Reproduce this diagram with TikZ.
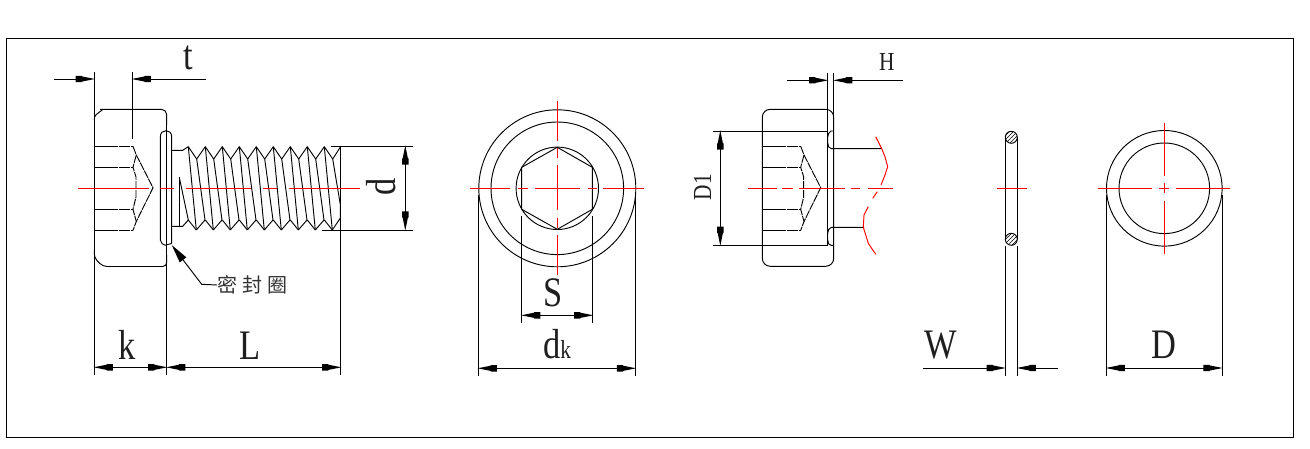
\documentclass[tikz,border=0pt]{standalone}
\usepackage{fontspec}
\usetikzlibrary{arrows.meta,patterns}
\newfontfamily\dimfont[FakeStretch=0.82]{Liberation Serif}
\newfontfamily\cjkfont[LetterSpace=25]{Noto Sans CJK SC}
\definecolor{cl}{RGB}{255,0,0}
\pgfdeclarearrow{
  name=DimTip,
  setup code={\pgfarrowssetlineend{-6pt}\pgfarrowssetvisualbackend{-14pt}\pgfarrowssetbackend{-14pt}},
  drawing code={
    \pgfpathmoveto{\pgfqpoint{0.5pt}{0pt}}
    \pgfpathlineto{\pgfqpoint{-9pt}{1.9pt}}
    \pgfpathlineto{\pgfqpoint{-9.5pt}{2.4pt}}
    \pgfpathlineto{\pgfqpoint{-14pt}{2.4pt}}
    \pgfpathlineto{\pgfqpoint{-14pt}{-2.4pt}}
    \pgfpathlineto{\pgfqpoint{-9.5pt}{-2.4pt}}
    \pgfpathlineto{\pgfqpoint{-9pt}{-1.9pt}}
    \pgfpathclose\pgfusepathqfill
  }
}
\tikzset{
  line/.style={draw=black,line width=0.72pt},
  dim/.style={line,-{DimTip}},
  dimboth/.style={line,{DimTip}-{DimTip}},
  red axis/.style={draw=cl,line width=0.75pt},
  thin line/.style={draw=black,line width=0.7pt},
  socket dash/.style={thin line,dash pattern=on 18pt off 0.8pt on 8pt off 0.8pt},
  cone dash/.style={thin line,dash pattern=on 6pt off 0.7pt},
  big label/.style={anchor=base,inner sep=0pt,text=black!88,font=\dimfont\fontsize{31.5}{32}\selectfont},
  small label/.style={anchor=base,inner sep=0pt,text=black!88,font=\dimfont\fontsize{19.5}{20}\selectfont},
  wave/.style={draw=cl,line width=0.72pt},
  ringcut/.style={thin line,pattern=north east lines,pattern color=black},
}
\newcommand{\socketview}[1]{%
  \begin{scope}[xshift=#1*0.75pt]
    \path[socket dash] (94.3,146.3) -- (133,146.3);
    \path[socket dash] (94.3,167.3) -- (133,167.3);
    \path[socket dash] (94.3,209.3) -- (133,209.3);
    \path[socket dash] (94.3,230.3) -- (133,230.3);
    \path[cone dash] (133,146.3) -- (136.3,155) -- (153,187.7) -- (136.3,221.5) -- (133,230.3);
    \path[cone dash] (136.3,155) -- (133,167.3) -- (136,177) -- (136,197) -- (133,209.3) -- (136.3,221.5);
  \end{scope}}
\begin{document}
\begin{tikzpicture}[x=0.75pt,y=-0.75pt]
\useasboundingbox (0,0) rectangle (1310,449);
\fill[white] (0,0) rectangle (1310,449);
\draw[line] (6,38) rectangle (1293,437);

% ---------- left view: screw with seal
\path[line,rounded corners=2pt] (94.3,120) -- (94.3,116) -- (103,109.3);
\path[line] (94.3,72) -- (94.3,375);
\path[line,rounded corners=4pt] (100,109.3) -- (166.7,109.3) -- (166.7,125);
\path[line] (166.7,120) -- (166.7,375);
\path[line,rounded corners=3pt] (94.3,255) -- (94.3,258) -- (103,266.5) -- (166.7,266.5) -- (166.7,255);
\path[line] (132.3,72) -- (132.3,139);
\socketview{0}
% seal ring
\path[line] (160.3,240) -- (160.3,137) .. controls (160.3,132.5) and (163,130.7) .. (166,130.7)
  .. controls (169,130.7) and (171.7,132.5) .. (171.7,137) -- (171.7,243.5);
\path[line] (160.3,240) .. controls (161,243) and (163,245.2) .. (165,245.2) -- (171.7,243.5);
% shank and thread
\path[line] (171.7,150.3) -- (182.7,150.3) -- (188.3,146.7);
\path[line] (171.7,226.3) -- (182.7,226.3) -- (188.3,220);
\path[thin line] (179.3,177.3) -- (179.3,226.3);
\path[thin line] (179.3,177.3) -- (188.3,220);
\foreach \i in {0,...,8}{
  \pgfmathsetmacro{\ct}{188.3+17*\i}
  \pgfmathsetmacro{\rt}{196.7+17*\i}
  \pgfmathsetmacro{\cb}{196.3+17*\i}
  \pgfmathsetmacro{\rb}{205+17*\i}
  \pgfmathsetmacro{\rbp}{188.3+17*\i}
  \path[thin line] (\ct,146.7) -- (\rt,159);
  \path[thin line] (\rbp,220) -- (\cb,230);
  \path[thin line] (\ct,146.7) -- (\cb,230);
  \ifnum\i<8
    \path[thin line] (\rt,159) -- (\ct+17,146.7);
    \path[thin line] (\cb,230) -- (\rb,220);
    \path[thin line] (\rt,159) -- (\rb,220);
  \fi
}
\path[thin line] (332.7,159) -- (340.4,147);
\path[thin line] (332.7,159) -- (340.4,205) -- (340.4,218) -- (332.3,230);
\path[thin line] (340.4,147) -- (340.4,205);
\path[line] (340.7,218) -- (340.7,375);
\path[line] (331,146) -- (413,146);
\path[line] (322,230) -- (413,230);
% dims
\coordinate (tl0) at (54,79); \coordinate (tl1) at (94.3,79);
\coordinate (tr0) at (206,79); \coordinate (tr1) at (132.3,79);
\draw[dim] (tl0) -- (tl1); \draw[dim] (tr0) -- (tr1);
\coordinate (k0) at (94.3,367.3); \coordinate (k1) at (166.7,367.3); \coordinate (L1) at (340.7,367.3);
\draw[dimboth] (k0) -- (k1); \draw[dimboth] (k1) -- (L1);
\coordinate (d0) at (405.3,146); \coordinate (d1) at (405.3,230);
\draw[dimboth] (d0) -- (d1);
\node[big label] (lt) at (188,70) {t};
\node[big label] (lk) at (126.7,359) {k};
\node[big label] (lL) at (250,359) {L};
\node[big label,rotate=90] (ld) at (395.7,187) {d};
\coordinate (lead1) at (201.7,284.3);
\node[inner sep=0pt,anchor=west,text=black!80,font=\cjkfont\fontsize{15}{16}\selectfont] (seal) at (217,285) {密封圈};
\coordinate (leadtip) at (171.7,245);
\draw[line,-{Triangle[length=14pt,width=6pt]}] (seal.west) -- (lead1) -- (leadtip);
\foreach \a/\b in {78/149,160/174,186/251,263/277,289/360}
  \path[red axis] (\a,188.3) -- (\b,188.3);

% ---------- head end view
\path[thin line] (557.3,188.3) circle[radius=78.5];
\path[thin line] (557.3,188.3) circle[radius=66.3];
\path[thin line] (557.3,188.3) circle[radius=41.2];
\path[thin line] (557.3,147.3) -- (592.3,167.3) -- (592.3,209.3) -- (557.3,229.3) -- (521.7,209.3) -- (521.7,167.3) -- cycle;
\path[line] (521.7,216) -- (521.7,323);
\path[line] (592.7,216) -- (592.7,323);
\path[line] (478.3,195) -- (478.3,375.7);
\path[line] (635.5,195) -- (635.5,375.7);
\coordinate (s0) at (521.7,315.3); \coordinate (s1) at (592.7,315.3);
\coordinate (dk0) at (478.3,368.3); \coordinate (dk1) at (635.5,368.3);
\draw[dimboth] (s0) -- (s1);
\draw[dimboth] (dk0) -- (dk1);
\node[big label] (lS) at (553,306.7) {S};
\node[big label] (ldk) at (557,358) {d{\fontsize{19.5}{20}\selectfont k}};
\foreach \a/\b in {470/510,518/528,535/580,588/597,603/644}
  \path[red axis] (\a,188.3) -- (\b,188.3);
\foreach \a/\b in {101/141,148/158,165/210,218/228,235/275}
  \path[red axis] (557.3,\a) -- (557.3,\b);

% ---------- section view
\path[line,rounded corners=6pt] (833.7,180) -- (833.7,109.3) -- (762.3,109.3) -- (762.3,266.3) -- (833.7,266.3) -- (833.7,180);
\path[line] (827.7,73) -- (827.7,245.3);
\path[line] (833.7,73) -- (833.7,120);
\socketview{667.7}
\path[line] (833.7,131) -- (831,131) .. controls (829,132) and (827.7,134.5) .. (827.7,137) -- (827.7,143)
  .. controls (827.7,146) and (829,148.7) .. (831.5,148.7) -- (881.7,148.7);
\path[line] (864,227.3) -- (831.5,227.3) .. controls (829,228) and (827.7,230.5) .. (827.7,233) -- (827.7,240)
  .. controls (827.7,243) and (829,245.3) .. (831,245.3) -- (833.7,245.3);
\path[line] (713.3,131) -- (827.7,131);
\path[line] (713.3,245.3) -- (827.7,245.3);
\coordinate (hl0) at (787,80.3); \coordinate (hl1) at (827.7,80.3);
\coordinate (hr0) at (902.7,80.3); \coordinate (hr1) at (833.7,80.3);
\draw[dim] (hl0) -- (hl1); \draw[dim] (hr0) -- (hr1);
\coordinate (D10) at (720.3,131); \coordinate (D11) at (720.3,245.3);
\draw[dimboth] (D10) -- (D11);
\node[small label] (lH) at (886.7,71) {H};
\node[small label,rotate=90] (lD1) at (711,187) {D1};
\path[wave] (875.7,136.7) -- (881.7,148.7) -- (885,156.7) -- (887.7,166.7) -- (885,175) -- (881,185);
\path[wave] (877.3,191.7) -- (872.7,198.3);
\path[wave] (868.3,206.7) -- (864,215) -- (863.3,227.3) -- (868.3,243.3) -- (875.7,254.3);
\foreach \a/\b in {748/776.7,781.7/793.3,799/845,850.7/860,867.7/893}
  \path[red axis] (\a,188.3) -- (\b,188.3);

% ---------- ring side view
\path[ringcut] (1011.3,137.3) circle[radius=6];
\path[ringcut] (1011.3,239.3) circle[radius=6];
\path[line] (1005.3,137.3) -- (1005.3,239.3);
\path[line] (1017.3,137.3) -- (1017.3,239.3);
\path[line] (1005.3,246) -- (1005.3,375.7);
\path[line] (1017.3,246) -- (1017.3,375.7);
\coordinate (wl0) at (923.3,368); \coordinate (wl1) at (1005.3,368);
\coordinate (wr0) at (1057.7,368); \coordinate (wr1) at (1017.3,368);
\draw[dim] (wl0) -- (wl1); \draw[dim] (wr0) -- (wr1);
\node[big label] (lW) at (941,358) {W};
\path[red axis] (997.3,188.3) -- (1026.7,188.3);

% ---------- ring front view
\path[thin line] (1164.3,188.3) circle[radius=57.8];
\path[thin line] (1164.3,188.3) circle[radius=45.3];
\path[line] (1106.3,195) -- (1106.3,375.7);
\path[line] (1222,195) -- (1222,375.7);
\coordinate (D0) at (1106.3,368); \coordinate (D1) at (1222,368);
\draw[dimboth] (D0) -- (D1);
\node[big label] (lD) at (1164,358) {D};
\foreach \a/\b in {1098/1151.7,1159.3/1169.3,1176/1230}
  \path[red axis] (\a,188.3) -- (\b,188.3);
\foreach \a/\b in {123/175.7,183/193,200.7/254}
  \path[red axis] (1164.3,\a) -- (1164.3,\b);
\end{tikzpicture}
\end{document}
